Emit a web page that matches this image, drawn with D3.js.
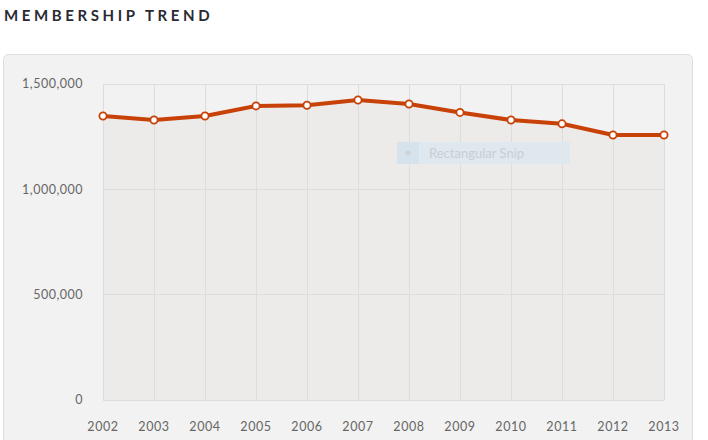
<!DOCTYPE html>
<html><head><meta charset="utf-8">
<script src="https://cdn.jsdelivr.net/npm/d3@7/dist/d3.min.js"></script>
<style>
body{margin:0;background:#fff;}
svg{display:block;font-family:Lato,"Open Sans",sans-serif;}
</style></head>
<body><svg id="c" width="708" height="440"></svg>
<script>
const years = [2002,2003,2004,2005,2006,2007,2008,2009,2010,2011,2012,2013];
const members = [1348000,1329000,1348000,1396000,1399000,1424000,1405000,1365000,1329000,1311000,1258000,1258000];
const yTicks = [0,500000,1000000,1500000];
const title = "MEMBERSHIP TREND";
const snipText = "Rectangular Snip";

const svg = d3.select("#c");
const data = years.map((y,i)=>({year:y, v:members[i]}));

svg.append("text").attr("x",4).attr("y",21)
  .attr("font-size",15).attr("font-weight",700).attr("letter-spacing",3.6)
  .attr("fill","#2a2a33").text(title);

svg.append("rect").attr("x",3.5).attr("y",54.5).attr("width",689).attr("height",400)
  .attr("rx",5).attr("fill","#f2f2f2").attr("stroke","#dedede");

const x = d3.scalePoint().domain(years).range([103,664]);
const y = d3.scaleLinear().domain([0,1500000]).range([400,84]);

// area under line
svg.append("path").datum(data)
  .attr("d", d3.area().x(d=>x(d.year)).y0(y(0)).y1(d=>y(d.v)))
  .attr("fill","#ecebe9");

// grid
const g = svg.append("g");
g.selectAll("line.v").data(years).join("line")
  .attr("x1",d=>x(d)).attr("x2",d=>x(d)).attr("y1",y(1500000)).attr("y2",y(0))
  .attr("stroke","#dddddd").attr("stroke-width",1).attr("shape-rendering","crispEdges");
g.selectAll("line.h").data(yTicks).join("line")
  .attr("x1",x(years[0])).attr("x2",x(years[years.length-1])).attr("y1",d=>y(d)).attr("y2",d=>y(d))
  .attr("stroke","#dddddd").attr("stroke-width",1).attr("shape-rendering","crispEdges");

// y axis labels
const fmt = d3.format(",");
svg.append("g").selectAll("text").data(yTicks).join("text")
  .attr("x",83).attr("y",d=>y(d)).attr("dy","0.35em").attr("text-anchor","end")
  .attr("font-size",12.5).attr("fill","#666").attr("letter-spacing",0.5).text(d=>fmt(d));

// x axis labels
svg.append("g").selectAll("text").data(years).join("text")
  .attr("x",d=>x(d)).attr("y",427).attr("dy","0.35em").attr("text-anchor","middle")
  .attr("font-size",12.5).attr("fill","#666").attr("letter-spacing",0.6).text(d=>d);

// snip overlay
svg.append("rect").attr("x",397).attr("y",142).attr("width",173).attr("height",22).attr("fill","#dfe8ee");
svg.append("rect").attr("x",397).attr("y",142).attr("width",22).attr("height",22).attr("fill","#d6e3ec");
svg.append("circle").attr("cx",408).attr("cy",153).attr("r",2.5).attr("fill","#cfd3d6");
svg.append("text").attr("x",429).attr("y",153).attr("dy","0.35em").attr("font-size",13)
  .attr("fill","#c9ced2").text(snipText);

// line
svg.append("path").datum(data)
  .attr("d", d3.line().x(d=>x(d.year)).y(d=>y(d.v)))
  .attr("fill","none").attr("stroke","#c84208").attr("stroke-width",4).attr("stroke-linejoin","round");

svg.append("g").selectAll("circle").data(data).join("circle")
  .attr("cx",d=>x(d.year)).attr("cy",d=>y(d.v)).attr("r",3.6)
  .attr("fill","#fff").attr("stroke","#c84208").attr("stroke-width",1.8);
</script></body></html>
